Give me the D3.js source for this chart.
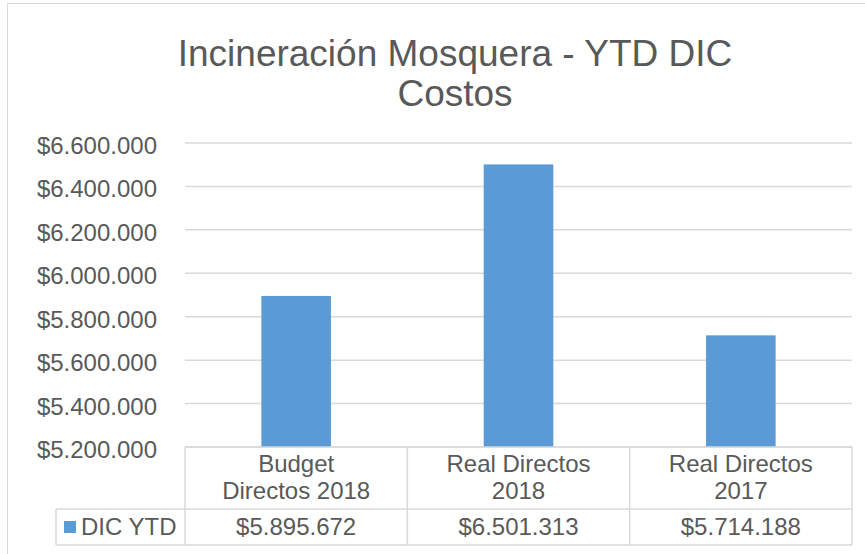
<!DOCTYPE html>
<html>
<head>
<meta charset="utf-8">
<script src="https://cdn.jsdelivr.net/npm/d3@7"></script>
<style>
body{margin:0;background:#fff;}
text{font-family:"Liberation Sans",Arial,sans-serif;fill:#595959;}
</style>
</head>
<body>
<script>
// data
var categories = [["Budget", "Directos 2018"], ["Real Directos", "2018"], ["Real Directos", "2017"]];
var values = [5895672, 6501313, 5714188];
var seriesName = "DIC YTD";
var yTicks = [5200000, 5400000, 5600000, 5800000, 6000000, 6200000, 6400000, 6600000];

var width = 865, height = 554;
var svg = d3.select("body").append("svg").attr("width", width).attr("height", height);

// chart border
svg.append("rect").attr("x", 7.5).attr("y", 3.5).attr("width", 880).attr("height", 600)
  .attr("fill", "#fff").attr("stroke", "#d9d9d9");

var fmt = function(v){ return "$" + d3.format(",")(v).replace(/,/g, "."); };

var plotL = 185, plotR = 852, plotT = 143, plotB = 447;
var x = d3.scaleBand().domain(d3.range(values.length)).range([plotL, plotR]).paddingInner(0.687).paddingOuter(0.3435);
var cell = d3.scaleBand().domain(d3.range(values.length)).range([plotL, plotR]);
var y = d3.scaleLinear().domain([5200000, 6600000]).range([plotB, plotT]);

// title
var title = svg.append("text").attr("text-anchor", "middle").style("font-size", "37px");
title.append("tspan").attr("x", 455).attr("y", 66).text("Incineración Mosquera - YTD DIC");
title.append("tspan").attr("x", 455).attr("y", 106).text("Costos");

// gridlines
svg.append("g").selectAll("line").data(yTicks).enter().append("line")
  .attr("x1", plotL).attr("x2", plotR)
  .attr("y1", function(d){ return y(d); })
  .attr("y2", function(d){ return y(d); })
  .attr("stroke", "#d9d9d9").attr("stroke-width", 1.5);

// y labels
svg.append("g").selectAll("text").data(yTicks).enter().append("text")
  .attr("x", 157).attr("y", function(d){ return y(d) + 11; })
  .attr("text-anchor", "end").style("font-size", "24px")
  .text(fmt);

// bars
svg.append("g").selectAll("rect").data(values).enter().append("rect")
  .attr("x", function(d, i){ return x(i); })
  .attr("width", x.bandwidth())
  .attr("y", function(d){ return y(d); })
  .attr("height", function(d){ return plotB - y(d); })
  .attr("fill", "#5b9bd5");

// data table
var rowMid = 509, rowBot = 545, legLeft = 56;
var tbl = svg.append("g").attr("stroke", "#d9d9d9").attr("stroke-width", 1.5).attr("fill", "none");
tbl.append("line").attr("x1", plotL).attr("x2", plotR).attr("y1", plotB).attr("y2", plotB);
tbl.append("line").attr("x1", legLeft).attr("x2", plotR).attr("y1", rowMid).attr("y2", rowMid);
tbl.append("line").attr("x1", legLeft).attr("x2", plotR).attr("y1", rowBot).attr("y2", rowBot);
tbl.append("line").attr("x1", legLeft).attr("x2", legLeft).attr("y1", rowMid).attr("y2", rowBot);
d3.range(values.length + 1).forEach(function(i){
  var xx = i < values.length ? cell(i) : plotR;
  tbl.append("line").attr("x1", xx).attr("x2", xx).attr("y1", plotB).attr("y2", rowBot);
});

// category labels
categories.forEach(function(c, i){
  var cx = cell(i) + cell.bandwidth() / 2;
  var t = svg.append("text").attr("text-anchor", "middle").style("font-size", "24px");
  t.append("tspan").attr("x", cx).attr("y", 472).text(c[0]);
  t.append("tspan").attr("x", cx).attr("y", 499).text(c[1]);
});

// value row
svg.append("g").selectAll("text").data(values).enter().append("text")
  .attr("x", function(d, i){ return cell(i) + cell.bandwidth() / 2; })
  .attr("y", 535).attr("text-anchor", "middle").style("font-size", "24px")
  .text(fmt);

// legend key
svg.append("rect").attr("x", 64).attr("y", 521).attr("width", 12).attr("height", 12).attr("fill", "#5b9bd5");
svg.append("text").attr("x", 81).attr("y", 535).style("font-size", "24px").text(seriesName);
</script>
</body>
</html>
